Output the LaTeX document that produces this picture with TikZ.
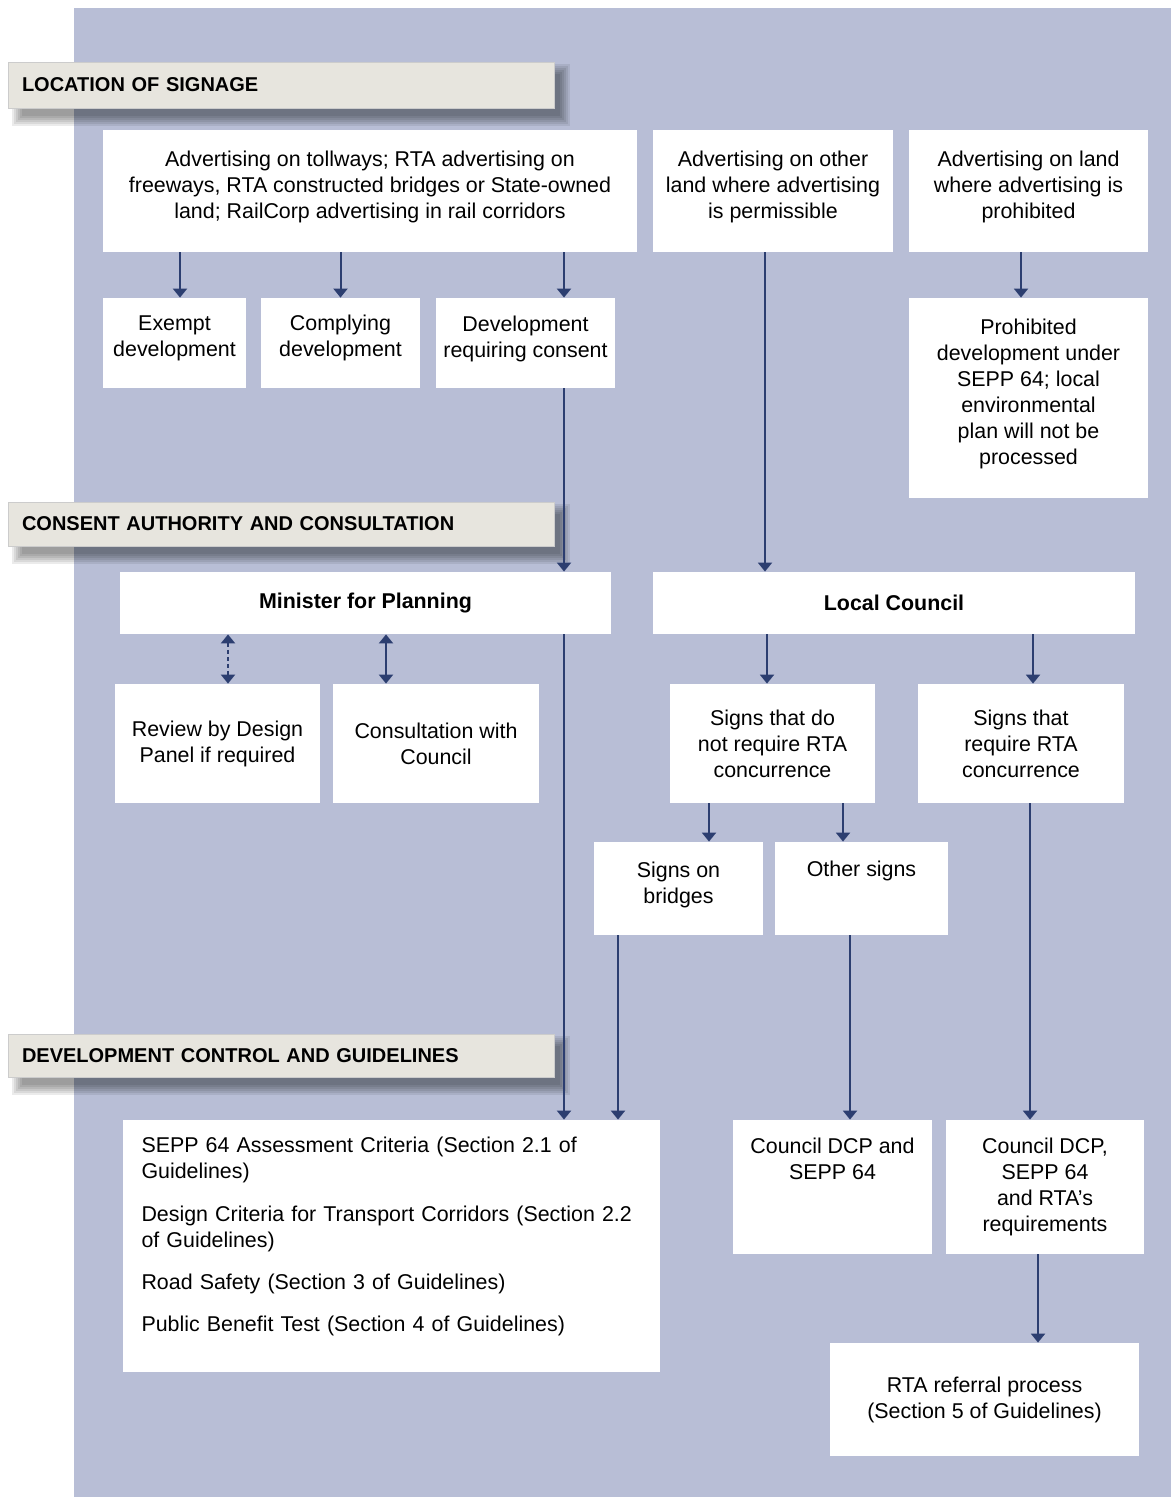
\documentclass[tikz,border=0pt]{standalone}
\usepackage{fontspec}
\setmainfont{Liberation Sans}
\usetikzlibrary{arrows.meta, calc}
\definecolor{sigpanel}{RGB}{184,190,214}
\definecolor{sigband}{RGB}{231,229,222}
\definecolor{sigarrow}{RGB}{44,62,112}
\pgfdeclarelayer{bg}
\pgfdeclarelayer{shade}
\pgfsetlayers{bg,shade,main}

\begin{document}
\begin{tikzpicture}[
    x=0.5pt, y=-0.5pt,
    font=\fontsize{10.7}{13}\selectfont,
    box/.style={rectangle, fill=white, align=center, inner sep=0pt},
    band/.style={rectangle, fill=sigband, draw=black!20, line width=0.4pt, text width=259pt, inner xsep=7pt, inner ysep=0pt,
        align=left, font=\fontsize{10}{12}\selectfont\bfseries},
    arrow/.style={-{Triangle[width=7pt,length=4.5pt]}, line width=1pt, sigarrow},
    twoway/.style={{Triangle[width=7pt,length=4.5pt]}-{Triangle[width=7pt,length=4.5pt]}, line width=1pt, sigarrow}
]
\useasboundingbox (0,0) rectangle (1171,1497);

% Panel de fondo
\begin{pgfonlayer}{bg}
\fill[sigpanel] (74,8) rectangle (1171,1497);
\end{pgfonlayer}

% Section bands
\node[band, minimum height=23pt] (hloc) at (281,85) {LOCATION OF SIGNAGE};
\node[band, minimum height=22pt] (hcons) at (281,524) {CONSENT AUTHORITY AND CONSULTATION};
\node[band, minimum height=21.5pt] (hdev) at (281,1055.5) {DEVELOPMENT CONTROL AND GUIDELINES};

% soft shadow under the bands
\begin{pgfonlayer}{shade}
\foreach \h in {hloc,hcons,hdev}
  \foreach \r in {0,2,...,10}
    \fill[black, opacity=0.08] ([shift={(14-\r,12-\r)}]\h.north west) rectangle ([shift={(6+\r,8+\r)}]\h.south east);
\end{pgfonlayer}

% Location of signage
\node[box, minimum width=267pt, minimum height=61pt] (toll) at (370,191)
    {Advertising on tollways; RTA advertising on\\freeways, RTA constructed bridges or State-owned\\land; RailCorp advertising in rail corridors\\[-7pt]\mbox{}};
\node[box, minimum width=120pt, minimum height=61pt] (other) at (773,191)
    {Advertising on other\\land where advertising\\is permissible\\[-7pt]\mbox{}};
\node[box, minimum width=119.5pt, minimum height=61pt] (banned) at (1028.5,191)
    {Advertising on land\\where advertising is\\prohibited\\[-7pt]\mbox{}};
\node[box, minimum width=71.5pt, minimum height=45pt] (exempt) at (174.5,343) {Exempt\\development\\[-6pt]\mbox{}};
\node[box, minimum width=79.5pt, minimum height=45pt] (comply) at (340.5,343) {Complying\\development\\[-6pt]\mbox{}};
\node[box, minimum width=89.5pt, minimum height=45pt] (devcon) at (525.5,343) {Development\\requiring consent\\[-7pt]\mbox{}};
\node[box, minimum width=119.5pt, minimum height=100pt] (prohib) at (1028.5,398)
    {Prohibited\\development under\\SEPP 64; local\\environmental\\plan will not be\\processed\\[-7pt]\mbox{}};

% Consent authority and consultation
\node[box, minimum width=245.5pt, minimum height=31pt, font=\fontsize{10.7}{13}\selectfont\bfseries] (minister) at (365.5,603) {Minister for Planning};
\node[box, minimum width=241pt, minimum height=31pt, font=\fontsize{10.7}{13}\selectfont\bfseries] (council) at (894,603) {Local Council};
\node[box, minimum width=102.5pt, minimum height=59.5pt] (review) at (217.5,743.5) {Review by Design\\Panel if required};
\node[box, minimum width=103pt, minimum height=59.5pt] (consult) at (436,743.5) {Consultation with\\Council};
\node[box, minimum width=102.5pt, minimum height=59.5pt] (nortA) at (772.5,743.5) {Signs that do\\not require RTA\\concurrence};
\node[box, minimum width=103pt, minimum height=59.5pt] (withrta) at (1021,743.5) {Signs that\\require RTA\\concurrence};
\node[box, minimum width=84.5pt, minimum height=46.5pt] (bridges) at (678.5,888.5) {Signs on\\bridges\\[-7pt]\mbox{}};
\node[box, minimum width=86.5pt, minimum height=46.5pt] (othersigns) at (861.5,888.5) {Other signs\\[7pt]\mbox{}};

% Development control and guidelines
\node[box, minimum width=268.5pt, minimum height=126pt, text width=250pt, align=left] (sepp) at (391.5,1246)
    {SEPP 64 Assessment Criteria (Section 2.1 of\\Guidelines)\\[8.5pt]
     Design Criteria for Transport Corridors (Section 2.2\\of Guidelines)\\[8pt]
     Road Safety (Section 3 of Guidelines)\\[8pt]
     Public Benefit Test (Section 4 of Guidelines)\\[-1pt]\mbox{}};
\node[box, minimum width=99.5pt, minimum height=67pt] (dcp) at (832.5,1187) {Council DCP and\\SEPP 64\\[15pt]\mbox{}};
\node[box, minimum width=99pt, minimum height=67pt] (dcprta) at (1045,1187) {Council DCP,\\SEPP 64\\and RTA's\\requirements};
\node[box, minimum width=154.5pt, minimum height=56.5pt] (referral) at (984.5,1399.5) {RTA referral process\\(Section 5 of Guidelines)};

% Flechas
\draw[arrow] ([xshift=2.75pt]exempt.north |- toll.south) -- ([xshift=2.75pt]exempt.north);
\draw[arrow] (comply.north |- toll.south) -- (comply.north);
\draw[arrow] ([xshift=19.25pt]devcon.north |- toll.south) -- ([xshift=19.25pt]devcon.north);
\draw[arrow] ([xshift=-3.75pt]prohib.north |- banned.south) -- ([xshift=-3.75pt]prohib.north);
\draw[arrow] ([xshift=-4pt]other.south) -- ([xshift=-4pt]other.south |- council.north);
\draw[arrow] ([xshift=19.25pt]devcon.south) -- ([xshift=19.25pt]devcon.south |- minister.north);
\draw[arrow] ([xshift=19.25pt]devcon.south |- minister.south) -- ([xshift=19.25pt]devcon.south |- sepp.north);
\draw[twoway, dash pattern=on 2pt off 1.5pt] ([xshift=5.25pt]review.north |- minister.south) -- ([xshift=5.25pt]review.north);
\draw[twoway] ([xshift=-25pt]consult.north |- minister.south) -- ([xshift=-25pt]consult.north);
\draw[arrow] ([xshift=-2.75pt]nortA.north |- council.south) -- ([xshift=-2.75pt]nortA.north);
\draw[arrow] ([xshift=6pt]withrta.north |- council.south) -- ([xshift=6pt]withrta.north);
\draw[arrow] ([xshift=15.25pt]bridges.north |- nortA.south) -- ([xshift=15.25pt]bridges.north);
\draw[arrow] ([xshift=-9.25pt]othersigns.north |- nortA.south) -- ([xshift=-9.25pt]othersigns.north);
\draw[arrow] ([xshift=-30.25pt]bridges.south) -- ([xshift=-30.25pt]bridges.south |- sepp.north);
\draw[arrow] ([xshift=-5.75pt]othersigns.south) -- ([xshift=-5.75pt]othersigns.south |- dcp.north);
\draw[arrow] ([xshift=4.5pt]withrta.south) -- ([xshift=4.5pt]withrta.south |- dcprta.north);
\draw[arrow] ([xshift=-3.5pt]dcprta.south) -- ([xshift=-3.5pt]dcprta.south |- referral.north);

\end{tikzpicture}
\end{document}
